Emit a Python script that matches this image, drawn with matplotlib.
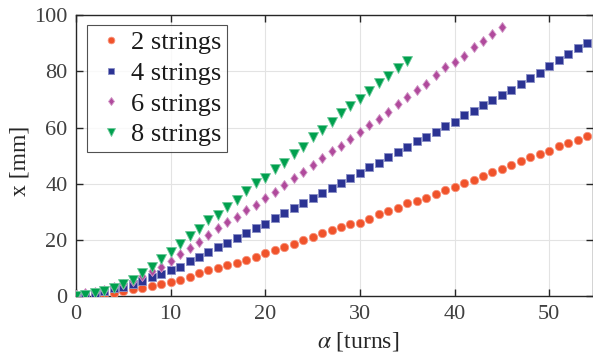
import numpy as np
import matplotlib
matplotlib.use("Agg")
import matplotlib.pyplot as plt

# ---------------- data ----------------
alpha_2 = list(range(0, 55))
x_2 = [0.0, 0.2, 0.4, 0.7, 1.3, 1.9, 2.5, 2.8, 3.6, 4.4,
       5.1, 5.8, 6.8, 8.4, 9.3, 10.2, 11.1, 12.0, 12.9, 14.1,
       15.3, 16.5, 17.4, 18.5, 20.1, 21.2, 22.5, 23.7, 24.6, 25.8,
       26.2, 27.5, 29.4, 30.2, 31.4, 33.0, 33.8, 35.0, 36.5, 37.7,
       38.9, 40.3, 41.5, 42.9, 44.2, 45.3, 46.6, 48.0, 49.6, 50.6,
       51.6, 53.4, 54.6, 55.7, 56.9]

alpha_4 = list(range(0, 55))
x_4 = [0.1, 0.8, 1.3, 2.0, 2.8, 3.4, 4.4, 5.4, 6.8, 7.9,
       9.4, 10.5, 12.6, 14.0, 15.8, 17.5, 19.1, 20.6, 22.4, 24.2,
       25.7, 27.8, 29.5, 31.3, 33.3, 35.1, 36.8, 38.5, 40.3, 42.1,
       44.0, 46.0, 47.4, 49.6, 51.2, 53.1, 55.3, 56.8, 58.5, 60.6,
       62.1, 64.5, 66.0, 68.0, 69.8, 71.7, 73.5, 75.6, 77.7, 79.4,
       81.7, 84.1, 86.0, 88.1, 89.9]

alpha_6 = list(range(0, 46))
x_6 = [0.3, 1.1, 1.5, 2.2, 3.2, 4.4, 5.4, 7.2, 9.1, 10.3,
       12.6, 15.1, 17.1, 19.4, 21.8, 24.2, 26.5, 28.3, 30.7, 32.5,
       34.9, 37.2, 39.6, 42.0, 44.1, 46.6, 49.1, 51.5, 53.6, 56.1,
       58.4, 61.0, 63.1, 65.7, 68.5, 70.8, 73.2, 75.6, 78.5, 81.4,
       83.3, 85.3, 88.5, 90.9, 93.2, 95.7]

alpha_8 = list(range(0, 36))
x_8 = [0.0, 0.5, 1.1, 1.9, 2.8, 4.3, 5.8, 8.2, 10.5, 13.2,
       15.7, 18.6, 21.6, 23.8, 27.2, 28.9, 31.7, 34.3, 37.5, 40.4,
       42.0, 45.2, 47.5, 50.5, 53.2, 56.8, 59.2, 62.1, 65.3, 67.5,
       70.1, 73.1, 75.8, 78.4, 81.1, 83.8]

labels = ["2 strings", "4 strings", "6 strings", "8 strings"]
x_ticks = [0, 10, 20, 30, 40, 50]
y_ticks = [0, 20, 40, 60, 80, 100]

# ---------------- style ----------------
plt.rcParams["font.family"] = ["Liberation Serif", "DejaVu Serif"]
plt.rcParams["mathtext.fontset"] = "stix"

fig = plt.figure(figsize=(5.93, 3.61), dpi=100)
ax = fig.add_axes([0.128, 0.1792, 1.0 - 0.128, 0.9584 - 0.1792])

diamond = [(0, 1), (0.74, 0), (0, -1), (-0.74, 0), (0, 1)]

series = [
    (alpha_2, x_2, "o", "#F0532B", "#F7917A", 6.0),
    (alpha_4, x_4, "s", "#2B3393", "#8A8FC6", 5.6),
    (alpha_6, x_6, diamond, "#B04A9C", "#D39BC9", 7.2),
    (alpha_8, x_8, "v", "#00A04E", "#6CC999", 6.6),
]
for (a, v, m, fc, ec, ms), lab in zip(series, labels):
    ax.plot(a, v, linestyle="none", marker=m, markersize=ms,
            markerfacecolor=fc, markeredgecolor=ec, markeredgewidth=0.6,
            label=lab, zorder=3)

ax.set_xlim(0, 54.62)
ax.set_ylim(0, 100)
ax.set_xticks(x_ticks)
ax.set_yticks(y_ticks)
ax.grid(True, color="#E3E3E3", linewidth=0.8)
ax.set_axisbelow(True)
ax.tick_params(direction="in", top=True, right=True, length=5,
               width=1.0, color="#262626", labelsize=16,
               labelcolor="#404040", pad=6)
for s in ax.spines.values():
    s.set_color("#262626")
    s.set_linewidth(1.0)

ax.set_xlabel(r"$\alpha$ [turns]", fontsize=17, color="#262626")
ax.xaxis.set_label_coords(0.546, -0.12, transform=ax.transAxes)
ax.xaxis.label.set_va("top")
ax.set_ylabel("x [mm]", fontsize=17, color="#262626")
ax.yaxis.set_label_coords(-0.088, 0.481, transform=ax.transAxes)

leg = ax.legend(loc="upper left", bbox_to_anchor=(0.021, 0.964),
                borderaxespad=0, fontsize=19, frameon=True, fancybox=False,
                edgecolor="#262626", handlelength=1.36, handletextpad=0.08,
                labelspacing=0.27, borderpad=0.22, markerscale=0.8)
leg.get_frame().set_linewidth(0.8)
for t in leg.get_texts():
    t.set_color("#1a1a1a")

fig.savefig("out.png", dpi=100)
